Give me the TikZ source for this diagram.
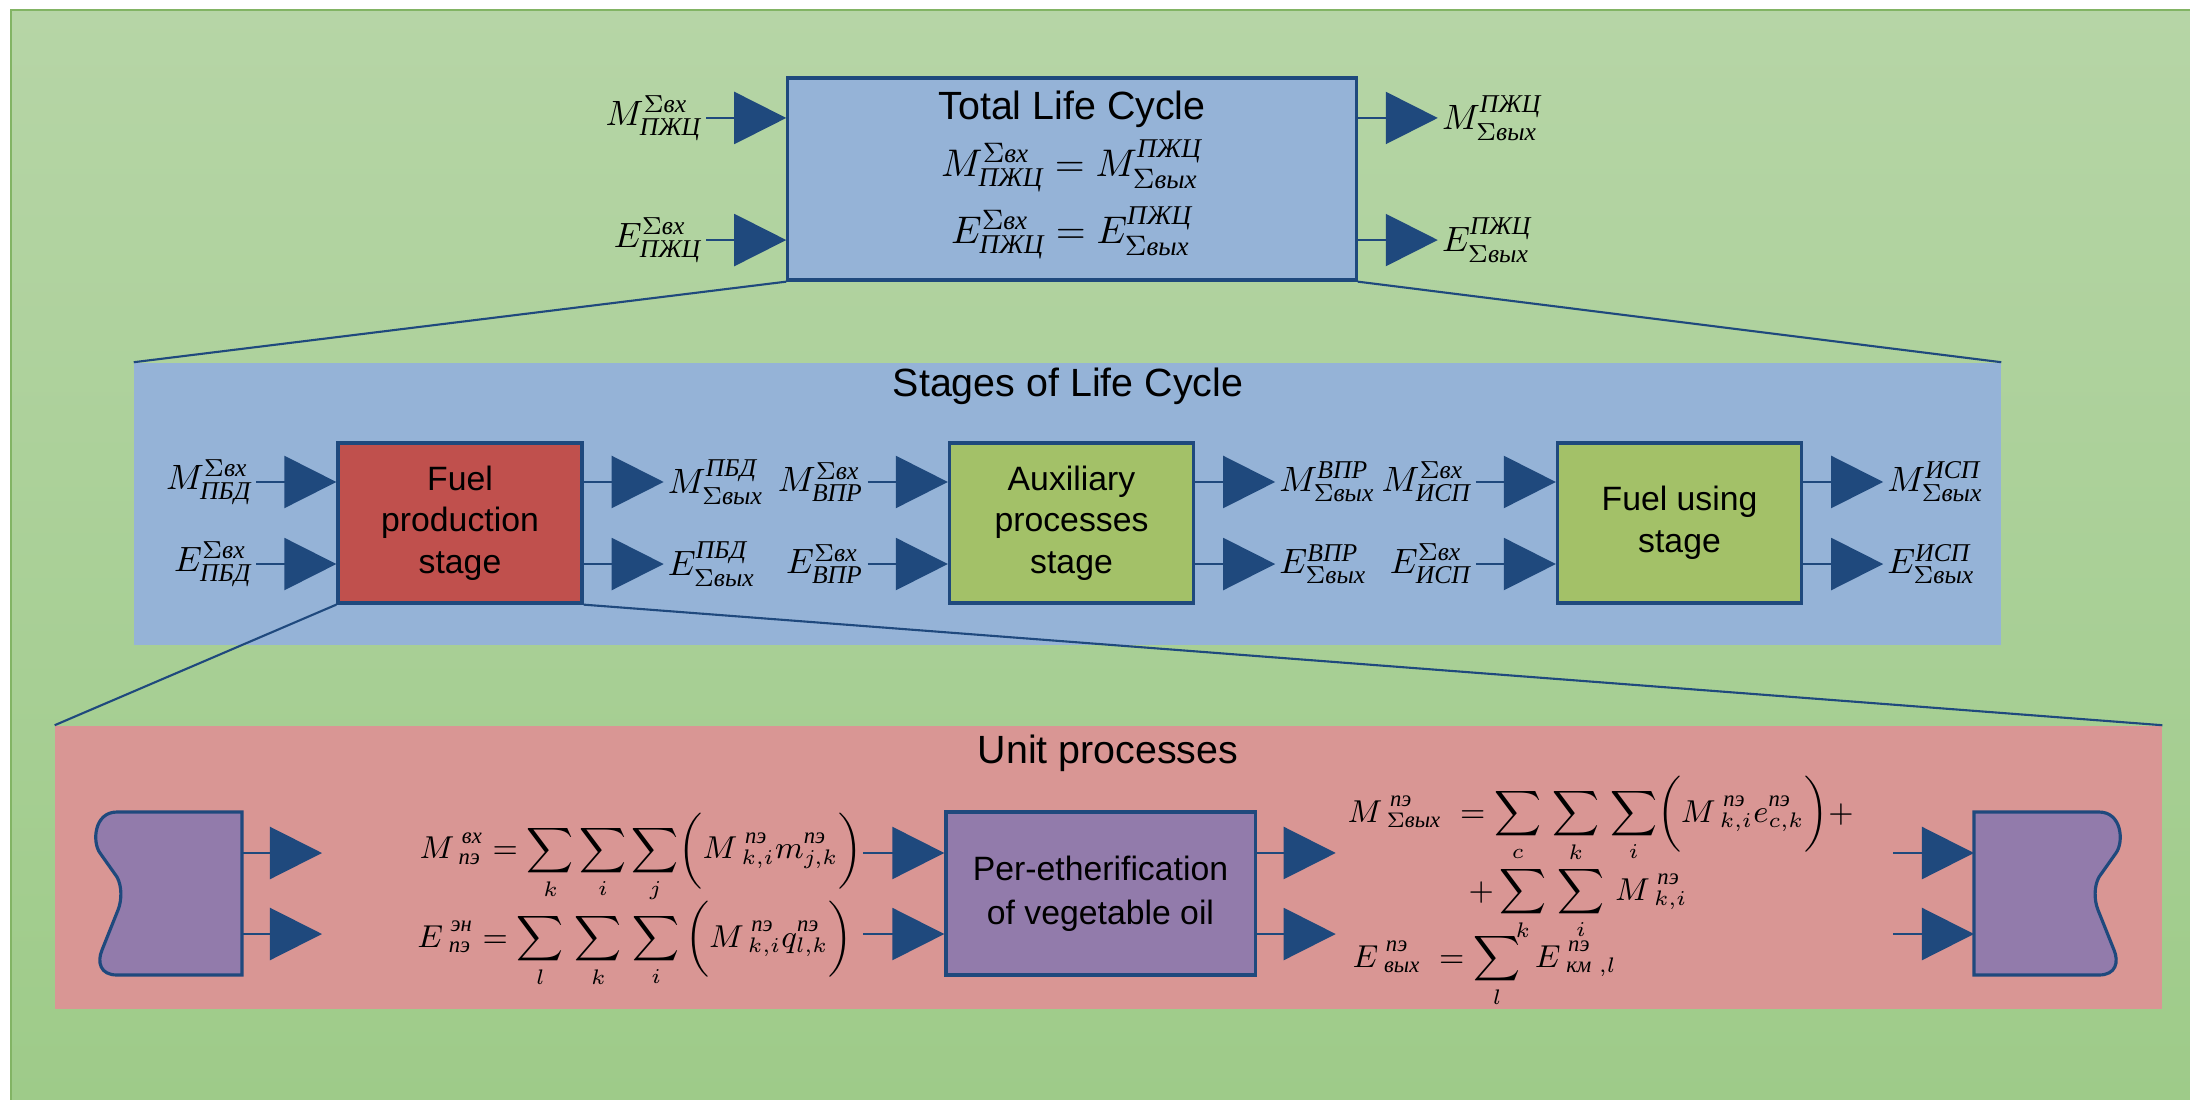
\documentclass[tikz,border=0pt]{standalone}
\usepackage{amsmath}
\usepackage[no-math]{fontspec}
\setmainfont{Liberation Sans}
\newfontfamily\cyfont{Liberation Serif}
\usetikzlibrary{arrows.meta,positioning}
\definecolor{navyline}{RGB}{31,73,125}
\definecolor{lifeblue}{RGB}{149,179,215}
\definecolor{fuelred}{RGB}{192,80,77}
\definecolor{auxgreen}{RGB}{163,193,104}
\definecolor{unitpink}{RGB}{217,150,148}
\definecolor{unitpurple}{RGB}{146,123,171}
\definecolor{bgtop}{RGB}{182,213,166}
\definecolor{bgbottom}{RGB}{158,203,137}
\definecolor{bgframe}{RGB}{130,180,100}
\newcommand{\cy}[1]{\text{\cyfont\itshape #1}}
\tikzset{
  box/.style={rectangle, draw=navyline, line width=0.9pt, align=center,
              font=\fontsize{9.6}{11.8}\selectfont, inner sep=0pt},
  sheet/.style={draw=navyline, line width=0.9pt, fill=unitpurple},
  band/.style={rectangle, inner sep=0pt},
  title/.style={font=\fontsize{11.2}{13}\selectfont, inner sep=0pt},
  lbl/.style={inner sep=1pt, font=\fontsize{10.4}{12}\selectfont},
  eqn/.style={inner sep=0pt, font=\fontsize{9.2}{11}\selectfont},
  flow/.style={-{Triangle[length=5.2mm, width=5.2mm]}, line width=0.6pt, navyline},
  link/.style={line width=0.6pt, navyline},
}
\begin{document}
\begin{tikzpicture}[x=0.01cm, y=-0.01cm]
\useasboundingbox (0,0) rectangle (2190,1100);
\shade[top color=bgtop, bottom color=bgbottom] (11,10) rectangle (2190,1100);
\draw[bgframe, line width=0.8pt] (11,1100) -- (11,10) -- (2190,10);

% bands
\node[band, fill=lifeblue, minimum width=18.65cm, minimum height=2.82cm] (stages) at (1067.5,504) {};
\node[band, fill=unitpink, minimum width=21.05cm, minimum height=2.83cm] (units) at (1108.5,867.5) {};

% boxes
\node[box, fill=lifeblue, minimum width=5.68cm, minimum height=2.02cm] (total) at (1072,179) {};
\node[box, fill=fuelred, minimum width=2.44cm, minimum height=1.6cm] (fp) at (460,523) {Fuel\\production\\stage};
\node[box, fill=auxgreen, minimum width=2.44cm, minimum height=1.6cm] (aux) at (1071.5,523) {Auxiliary\\processes\\stage};
\node[box, fill=auxgreen, minimum width=2.44cm, minimum height=1.6cm] (use) at (1679.5,523) {Fuel using\\stage};
\node[box, fill=unitpurple, minimum width=3.09cm, minimum height=1.63cm,
      font=\fontsize{9.6}{12.4}\selectfont] (pe) at (1100.5,893.5) {Per-etherification\\of vegetable oil};

% zoom lines
\draw[link] (total.south west) -- (stages.north west);
\draw[link] (total.south east) -- (stages.north east);
\draw[link] (fp.south west) -- (units.north west);
\draw[link] (fp.south east) -- (units.north east);

% titles
\node[title, anchor=base] (totalT) at (1072,119) {Total Life Cycle};
\node[anchor=base, inner sep=0pt, font=\fontsize{11}{13}\selectfont] (totalM) at (1072,176)
  {$M^{\Sigma\cy{вх}}_{\cy{ПЖЦ}} = M^{\cy{ПЖЦ}}_{\Sigma\cy{вых}}$};
\node[anchor=base, inner sep=0pt, font=\fontsize{11}{13}\selectfont] (totalE) at (1072,243)
  {$E^{\Sigma\cy{вх}}_{\cy{ПЖЦ}} = E^{\cy{ПЖЦ}}_{\Sigma\cy{вых}}$};
\node[title, anchor=base] (stagesT) at (1068,396) {Stages of Life Cycle};
\node[title, anchor=base] (unitsT) at (1108,763) {Unit processes};

% total life cycle flows
\coordinate (total-i1) at ([yshift=0.61cm]total.west);
\coordinate (total-i2) at ([yshift=-0.61cm]total.west);
\coordinate (total-o1) at ([yshift=0.61cm]total.east);
\coordinate (total-o2) at ([yshift=-0.61cm]total.east);
\node[lbl, left=0.8cm of total-i1] (totMin) {$M^{\Sigma\cy{вх}}_{\cy{ПЖЦ}}$};
\node[lbl, left=0.8cm of total-i2] (totEin) {$E^{\Sigma\cy{вх}}_{\cy{ПЖЦ}}$};
\node[lbl, right=0.8cm of total-o1] (totMout) {$M^{\cy{ПЖЦ}}_{\Sigma\cy{вых}}$};
\node[lbl, right=0.8cm of total-o2] (totEout) {$E^{\cy{ПЖЦ}}_{\Sigma\cy{вых}}$};
\draw[flow] (totMin) -- (total-i1);
\draw[flow] (totEin) -- (total-i2);
\draw[flow] (total-o1) -- (totMout);
\draw[flow] (total-o2) -- (totEout);

% stage flows
\foreach \b/\s in {fp/ПБД, aux/ВПР, use/ИСП} {
  \coordinate (\b-i1) at ([yshift=0.41cm]\b.west);
  \coordinate (\b-i2) at ([yshift=-0.41cm]\b.west);
  \coordinate (\b-o1) at ([yshift=0.41cm]\b.east);
  \coordinate (\b-o2) at ([yshift=-0.41cm]\b.east);
  \node[lbl, left=0.8cm of \b-i1] (\b-mi) {$M^{\Sigma\cy{вх}}_{\cy{\s}}$};
  \node[lbl, left=0.8cm of \b-i2] (\b-ei) {$E^{\Sigma\cy{вх}}_{\cy{\s}}$};
  \node[lbl, right=0.8cm of \b-o1] (\b-mo) {$M^{\cy{\s}}_{\Sigma\cy{вых}}$};
  \node[lbl, right=0.8cm of \b-o2] (\b-eo) {$E^{\cy{\s}}_{\Sigma\cy{вых}}$};
  \draw[flow] (\b-mi) -- (\b-i1);
  \draw[flow] (\b-ei) -- (\b-i2);
  \draw[flow] (\b-o1) -- (\b-mo);
  \draw[flow] (\b-o2) -- (\b-eo);
}

% source and sink sheets
\draw[sheet] (117,812) -- (242,812) -- (242,975) -- (117,975)
  .. controls (100,975) and (97,962) .. (102,950) -- (118,910)
  .. controls (122,900) and (122,886) .. (117,877) -- (100,853)
  .. controls (92,842) and (94,812) .. (117,812) -- cycle;
\begin{scope}[shift={(2216,0)}, xscale=-1]
\draw[sheet] (117,812) -- (242,812) -- (242,975) -- (117,975)
  .. controls (100,975) and (97,962) .. (102,950) -- (118,910)
  .. controls (122,900) and (122,886) .. (117,877) -- (100,853)
  .. controls (92,842) and (94,812) .. (117,812) -- cycle;
\end{scope}

\coordinate (src-o1) at (242,853);
\coordinate (src-o2) at (242,934);
\coordinate (src-t1) at (322,853);
\coordinate (src-t2) at (322,934);
\draw[flow] (src-o1) -- (src-t1);
\draw[flow] (src-o2) -- (src-t2);

% unit process flows
\coordinate (pe-i1) at ([yshift=0.405cm]pe.west);
\coordinate (pe-i2) at ([yshift=-0.405cm]pe.west);
\coordinate (pe-s1) at ([xshift=-0.81cm]pe-i1);
\coordinate (pe-s2) at ([xshift=-0.81cm]pe-i2);
\coordinate (pe-o1) at ([yshift=0.405cm]pe.east);
\coordinate (pe-o2) at ([yshift=-0.405cm]pe.east);
\coordinate (pe-t1) at ([xshift=0.79cm]pe-o1);
\coordinate (pe-t2) at ([xshift=0.79cm]pe-o2);
\node[eqn, anchor=base east] (eqMin) at ([yshift=-0.06cm]pe-s1)
  {$\displaystyle M^{\;\cy{вх}}_{\;\cy{пэ}} = \sum_{k}\sum_{i}\sum_{j}\biggl(M^{\;\cy{пэ}}_{\;k,i}m^{\cy{пэ}}_{j,k}\biggr)$};
\node[eqn, anchor=base east] (eqEin) at ([xshift=-0.1cm, yshift=-0.13cm]pe-s2)
  {$\displaystyle E^{\;\cy{эн}}_{\;\cy{пэ}} = \sum_{l}\,\sum_{k}\,\sum_{i}\,\biggl(M^{\;\cy{пэ}}_{\;k,i}q^{\cy{пэ}}_{l,k}\biggr)$};
\draw[flow] (pe-s1) -- (pe-i1);
\draw[flow] (pe-s2) -- (pe-i2);
\draw[flow] (pe-o1) -- (pe-t1);
\draw[flow] (pe-o2) -- (pe-t2);
\node[eqn, anchor=base west] (eqMout) at (1347,822)
  {$\displaystyle M^{\;\cy{пэ}}_{\;\Sigma\cy{вых}} \;= \sum_{c}\,\sum_{k}\,\sum_{i}\biggl(M^{\;\cy{пэ}}_{\;k,i}e^{\cy{пэ}}_{c,k}\biggr)+$};
\node[eqn, anchor=base west] (eqMout2) at (1468,900)
  {$\displaystyle +\sum_{k}\,\sum_{i}\,M^{\;\cy{пэ}}_{\;k,i}$};
\node[eqn, anchor=base west] (eqEout) at (1352,967)
  {$\displaystyle E^{\;\cy{пэ}}_{\;\cy{вых}} \;= \sum_{l}\;E^{\;\cy{пэ}}_{\;\cy{км}\;,l}$};

\coordinate (snk-s1) at (1893,853);
\coordinate (snk-s2) at (1893,934);
\coordinate (snk-i1) at (1974,853);
\coordinate (snk-i2) at (1974,934);
\draw[flow] (snk-s1) -- (snk-i1);
\draw[flow] (snk-s2) -- (snk-i2);
\end{tikzpicture}
\end{document}
